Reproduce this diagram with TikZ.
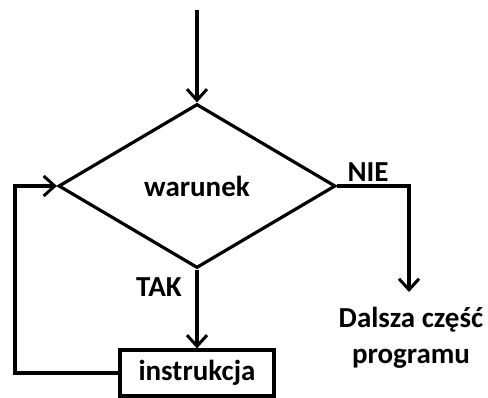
\documentclass[tikz,border=0pt]{standalone}
\usepackage{fontspec}
\setmainfont{Carlito}
\usetikzlibrary{shapes.geometric,arrows.meta}
\begin{document}
\begin{tikzpicture}[x=1pt,y=-1pt,
  line width=3.2pt,
  lbl/.style={font=\bfseries\fontsize{29}{31}\selectfont, inner sep=0pt},
  arr/.style={-{Straight Barb[length=11pt,width=20pt,line width=3pt]}},
  dec/.style={diamond, draw, aspect=1.69, minimum width=277pt, minimum height=164pt, inner sep=0pt, font=\bfseries\fontsize{29}{31}\selectfont},
  box/.style={rectangle, draw, minimum width=154pt, minimum height=46pt, inner sep=0pt, font=\bfseries\fontsize{29}{31}\selectfont}]
\useasboundingbox (0,0) rectangle (488,398);
\coordinate (start) at (197,10);
\node[dec] (d) at (197,186) {warunek};
\node[box] (b) at (197,373) {instrukcja};
\coordinate (rc) at (409,186);
\coordinate (rend) at (409,292);
\coordinate (lb) at (15,373);
\coordinate (lt) at (15,186);
\node[lbl] (nie) at (368,172) {NIE};
\node[lbl] (tak) at (159,287) {TAK};
\node[lbl, align=center, font=\bfseries\fontsize{29}{36}\selectfont] (dal) at (411,338) {Dalsza część\\programu};
\draw[arr] (start) -- (d.north);
\draw[arr] (d.south) -- (b.north);
\draw[arr] (d.east) -- (rc) -- (rend);
\draw[arr] (b.west |- lb) -- (lb) -- (lt) -- (d.west);
\end{tikzpicture}
\end{document}
